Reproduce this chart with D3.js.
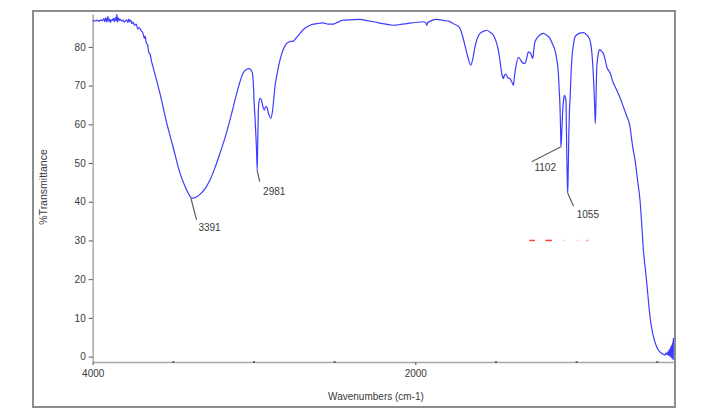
<!DOCTYPE html>
<html>
<head>
<meta charset="utf-8">
<script src="https://cdn.jsdelivr.net/npm/d3@7"></script>
<style>
  body { margin: 0; background: #fff; }
  svg text { font-family: "Liberation Sans", Arial, sans-serif; fill: #3a3a3a; }
</style>
</head>
<body>
<div id="chart"></div>
<script>
// IR spectrum: [wavenumber cm-1, %T]
const spectrum = [
  [4000, 86.6], [3990, 86.8], [3980, 86.7], [3970, 86.9], [3960, 86.6], [3950, 87.0],
  [3940, 86.8], [3930, 87.3], [3925, 86.5], [3918, 87.6], [3912, 86.4], [3905, 87.8],
  [3900, 86.6], [3895, 87.2], [3890, 86.3], [3885, 87.0], [3880, 86.8], [3872, 87.4],
  [3866, 86.5], [3860, 87.6], [3855, 86.7], [3850, 88.4], [3846, 86.4], [3840, 87.5],
  [3834, 86.8], [3828, 87.1], [3820, 86.7], [3812, 86.9], [3804, 86.4], [3796, 86.8],
  [3790, 87.0], [3782, 86.3], [3776, 87.2], [3770, 86.5], [3764, 86.9], [3758, 86.0],
  [3750, 86.4], [3740, 85.6], [3730, 85.9], [3720, 84.6], [3712, 85.0], [3700, 84.2],
  [3688, 83.5], [3680, 82.2], [3675, 82.8], [3668, 81.0], [3660, 80.6], [3652, 78.5],
  [3645, 78.2], [3636, 76.4], [3626, 74.8], [3605, 71.5], [3583, 68.0], [3541, 60.3],
  [3502, 54.2], [3459, 47.4], [3430, 44.2], [3410, 42.4], [3395, 41.3], [3386, 40.9],
  [3370, 41.0], [3350, 41.4], [3335, 41.9], [3300, 43.6], [3273, 45.6], [3240, 49.0],
  [3211, 52.5], [3180, 56.5], [3149, 61.1], [3107, 68.0], [3068, 73.2], [3045, 74.2],
  [3029, 74.4], [3015, 73.8], [3010, 73.2], [3003, 69.5], [3000, 66.2], [2994, 62.0],
  [2989, 57.7], [2984, 53.0], [2980, 48.2], [2977, 55.0], [2974, 62.0], [2970, 65.5],
  [2962, 66.7], [2955, 66.4], [2945, 64.6], [2936, 63.7], [2928, 64.5], [2921, 64.5],
  [2910, 62.8], [2896, 61.5], [2885, 63.5], [2870, 69.7], [2855, 73.5], [2839, 76.6],
  [2820, 79.2], [2797, 80.9], [2775, 81.4], [2756, 81.5], [2735, 82.5], [2715, 83.5],
  [2685, 84.8], [2653, 85.6], [2610, 86.0], [2572, 86.2], [2540, 85.9], [2510, 85.9],
  [2480, 86.4], [2448, 86.9], [2400, 87.0], [2343, 87.1], [2300, 86.8], [2260, 86.5],
  [2200, 86.0], [2136, 85.6], [2090, 85.8], [2053, 86.0], [2000, 86.3], [1950, 86.5],
  [1935, 86.2], [1929, 85.6], [1922, 86.3], [1900, 86.8], [1867, 87.1], [1820, 86.8],
  [1790, 86.6], [1764, 86.0], [1740, 85.5], [1722, 84.7], [1705, 82.5], [1690, 80.0],
  [1672, 77.0], [1656, 75.3], [1643, 77.0], [1630, 80.0], [1615, 82.3], [1599, 83.5],
  [1578, 84.0], [1557, 84.3], [1537, 83.8], [1516, 83.0], [1500, 81.5], [1485, 79.1],
  [1472, 75.5], [1464, 73.1], [1458, 72.2], [1454, 71.8], [1448, 72.6], [1439, 73.0],
  [1430, 72.2], [1420, 71.9], [1413, 71.8], [1405, 71.2], [1398, 70.6], [1392, 70.1],
  [1385, 72.5], [1377, 74.8], [1361, 77.3], [1350, 76.8], [1340, 76.1], [1330, 75.8],
  [1320, 75.7], [1310, 77.0], [1299, 78.7], [1290, 78.5], [1284, 78.3], [1278, 77.5],
  [1272, 77.0], [1265, 79.5], [1258, 81.3], [1235, 82.8], [1206, 83.5], [1185, 83.0],
  [1165, 82.2], [1150, 80.8], [1134, 79.1], [1122, 76.5], [1113, 73.1], [1108, 69.0],
  [1103, 64.5], [1099, 58.0], [1097, 54.2], [1093, 57.0], [1089, 61.0], [1086, 63.7],
  [1080, 66.5], [1076, 67.5], [1070, 67.0], [1066, 66.2], [1063, 58.0], [1060, 50.0],
  [1057, 44.0], [1055, 42.2], [1052, 48.0], [1048, 58.0], [1045, 63.0], [1041, 66.2],
  [1036, 71.5], [1030, 76.6], [1020, 80.5], [1010, 82.6], [985, 83.5], [958, 83.7],
  [935, 83.0], [917, 81.7], [908, 79.5], [902, 76.6], [896, 72.5], [892, 68.8],
  [888, 64.5], [884, 60.2], [880, 66.0], [875, 74.8], [868, 77.5], [859, 79.3],
  [848, 79.0], [834, 78.3], [822, 76.5], [813, 74.8], [800, 73.8], [793, 73.3],
  [775, 71.0], [751, 68.8], [730, 66.8], [710, 64.5], [690, 62.2], [673, 60.2],
  [669, 59.4], [660, 56.5], [650, 53.6], [638, 50.8], [622, 45.5], [607, 40.4],
  [596, 34.0], [586, 27.5], [575, 23.0], [565, 18.9], [555, 14.5], [545, 10.3],
  [535, 7.5], [524, 5.2], [510, 3.2], [493, 1.7], [478, 1.0], [462, 0.6],
  [452, 0.4], [446, 0.9], [440, 0.5], [435, 1.2], [430, 0.3], [426, 1.8],
  [422, 0.1], [418, 2.4], [415, -0.2], [412, 2.9], [409, -0.4], [406, 3.4],
  [404, -0.6], [402, 4.2], [401, -0.8], [400, 4.8]
];

// peak annotations
const peakLabels = ['3391', '2981', '1102', '1055'];
const peakWn = [3391, 2981, 1097, 1055];
const peakT = [40.9, 48.2, 54.2, 42.2];

// axis ticks
const yTicks = [0, 10, 20, 30, 40, 50, 60, 70, 80];
const xLabelTicks = [4000, 2000];
const xMinorTicks = [3500, 3000, 2500, 1500, 1000, 500];

// faint red leftover marks at 30 %T
const redMarks = [[1293, 1258, 0.9], [1194, 1153, 0.9], [1087, 1072, 0.25], [1000, 984, 0.25], [940, 926, 0.5]];

const W = 705, H = 418;
// label offsets (dx, dy of leader end, text x/baseline from the peak point)
const peakOffsets = [
  { lx: 5.6, ly: 21.7, tx: 7.5, ty: 33 },
  { lx: 2.7, ly: 11.7, tx: 6, ty: 24.5 },
  { lx: -29.3, ly: 15, tx: -26.5, ty: 24 },
  { lx: 5.8, ly: 13, tx: 9, ty: 25 }
];

const svg = d3.select('#chart').append('svg')
  .attr('width', W)
  .attr('height', H);

// outer frame
svg.append('rect')
  .attr('x', 33).attr('y', 11)
  .attr('width', 642).attr('height', 396)
  .attr('fill', 'none')
  .attr('stroke', '#8c8c8c')
  .attr('stroke-width', 2);

const x = d3.scaleLinear().domain([4000, 400]).range([92.7, 673.4]);
const y = d3.scaleLinear().domain([-1.4, 88.5]).range([362, 14]);

// y axis
const yAxis = svg.append('g')
  .attr('transform', `translate(${x(4000)},0)`)
  .call(d3.axisLeft(y).tickValues(yTicks).tickSize(4).tickSizeOuter(0).tickPadding(3));
yAxis.select('.domain').attr('stroke', '#a8a8a8').attr('stroke-width', 1.5);
yAxis.selectAll('.tick line').attr('stroke', '#555');
yAxis.selectAll('.tick text').style('font-size', '10px').attr('fill', '#3a3a3a');

// x axis
const xAxis = svg.append('g')
  .attr('transform', `translate(0,${y(-1.4)})`)
  .call(d3.axisBottom(x).tickValues(xLabelTicks).tickFormat(d3.format('d'))
    .tickSize(3).tickSizeOuter(0).tickPadding(5));
xAxis.select('.domain').attr('stroke', '#a8a8a8').attr('stroke-width', 1.5);
xAxis.selectAll('.tick line').attr('stroke', '#555');
xAxis.selectAll('.tick text').style('font-size', '10px').attr('fill', '#3a3a3a');

svg.append('g').selectAll('rect')
  .data(xMinorTicks)
  .enter()
  .append('rect')
  .attr('x', d => x(d) - 1)
  .attr('y', y(-1.4) - 1)
  .attr('width', 2).attr('height', 2)
  .attr('fill', '#666');

// axis titles
svg.append('text')
  .attr('x', 376)
  .attr('y', 400)
  .attr('text-anchor', 'middle')
  .style('font-size', '10px')
  .text('Wavenumbers (cm-1)');

svg.append('text')
  .attr('transform', 'translate(47,187) rotate(-90)')
  .attr('text-anchor', 'middle')
  .style('font-size', '10.5px')
  .text('%Transmittance');

// red marks
svg.append('g').selectAll('line')
  .data(redMarks)
  .enter()
  .append('line')
  .attr('x1', d => x(d[0])).attr('x2', d => x(d[1]))
  .attr('y1', y(30)).attr('y2', y(30))
  .attr('stroke', '#ff3030')
  .attr('stroke-opacity', d => d[2])
  .attr('stroke-width', 1.5);

// spectrum
const line = d3.line()
  .curve(d3.curveMonotoneX)
  .x(d => x(d[0]))
  .y(d => y(d[1]));

svg.append('path')
  .datum(spectrum)
  .attr('fill', 'none')
  .attr('stroke', '#3c3cff')
  .attr('stroke-width', 1.2)
  .attr('stroke-linejoin', 'round')
  .attr('d', line);

// peak labels
const peaks = svg.append('g').selectAll('g')
  .data(peakLabels.map((label, i) => ({ label, wn: peakWn[i], t: peakT[i], o: peakOffsets[i] })))
  .enter()
  .append('g')
  .attr('transform', d => `translate(${x(d.wn)},${y(d.t)})`);

peaks.append('line')
  .attr('x1', 0).attr('y1', 0)
  .attr('x2', d => d.o.lx).attr('y2', d => d.o.ly)
  .attr('stroke', '#606060')
  .attr('stroke-width', 1.2);

peaks.append('text')
  .attr('x', d => d.o.tx)
  .attr('y', d => d.o.ty)
  .style('font-size', '10px')
  .text(d => d.label);
</script>
</body>
</html>
